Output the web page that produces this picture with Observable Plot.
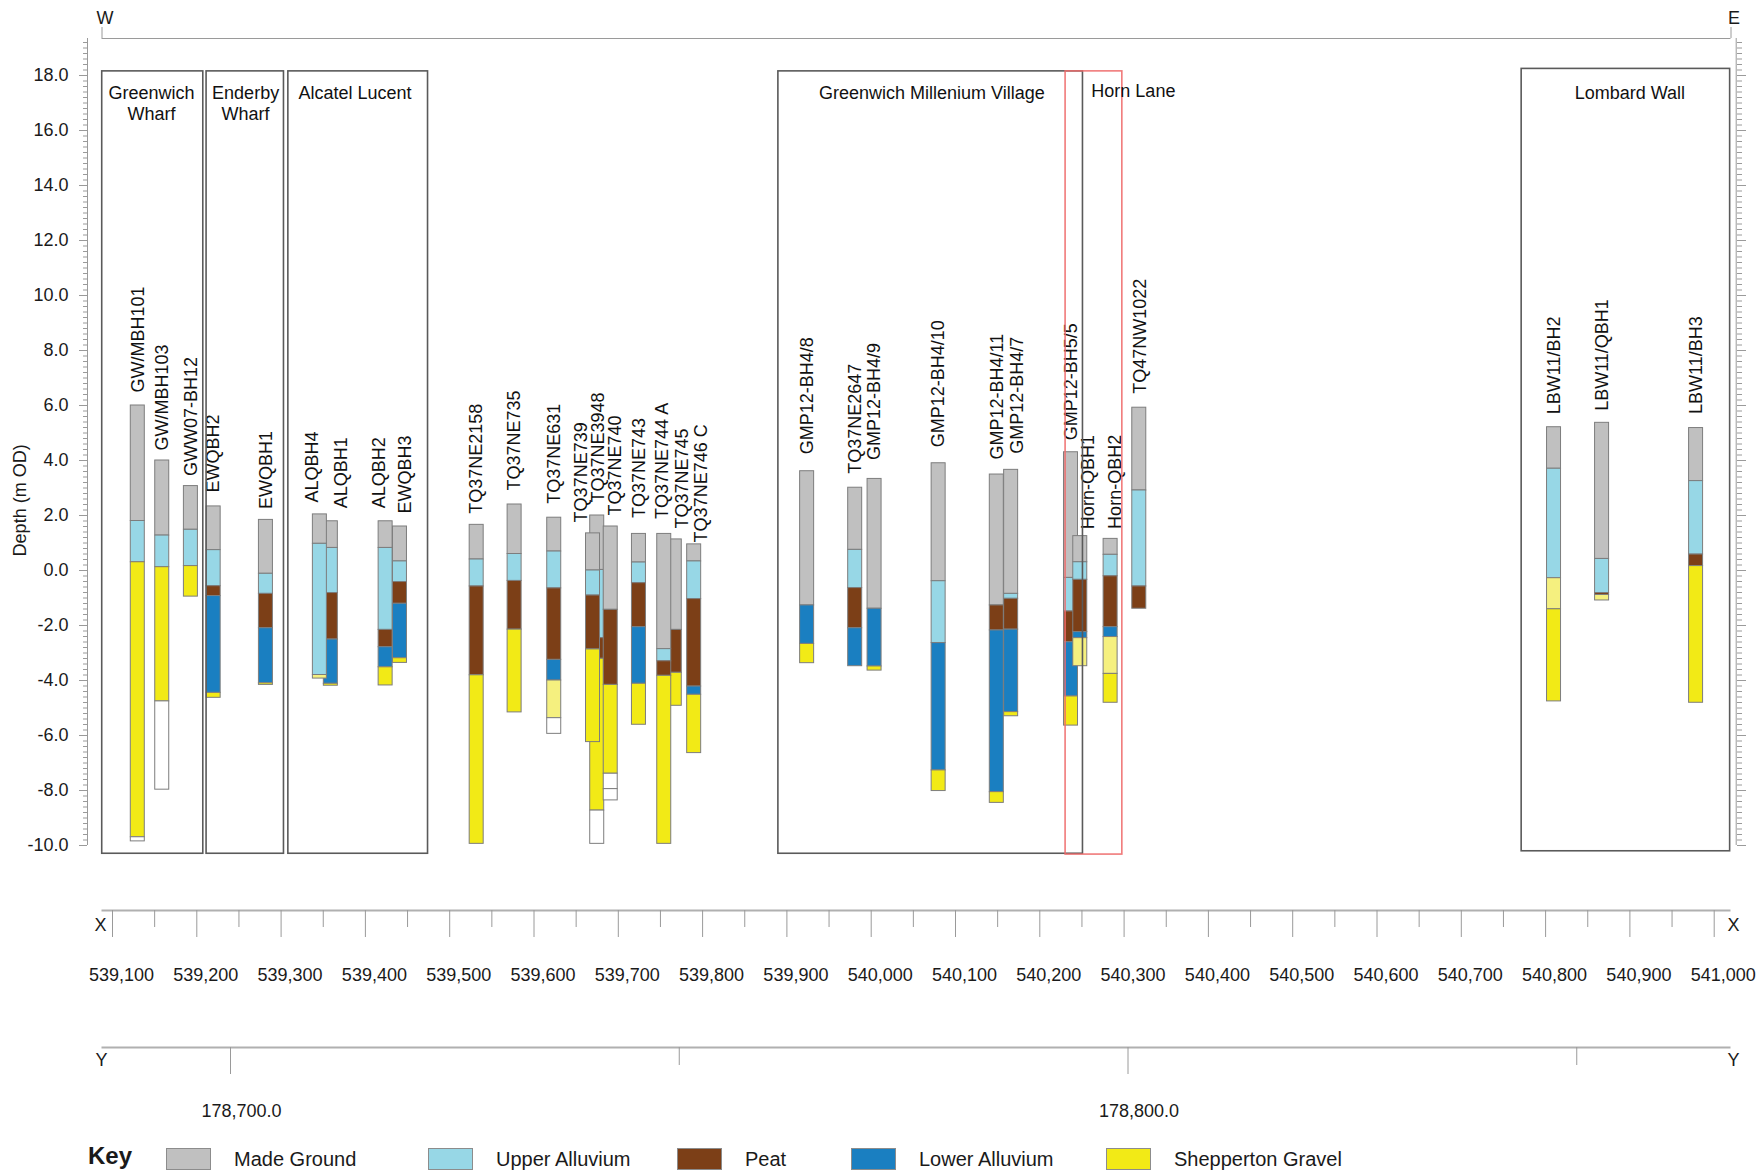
<!DOCTYPE html>
<html>
<head>
<meta charset="utf-8">
<script src="https://cdn.jsdelivr.net/npm/d3@7"></script>
<script src="https://cdn.jsdelivr.net/npm/@observablehq/plot@0.6"></script>
<style>
  body { margin: 0; background: #fff; }
  #page { position: relative; width: 1762px; height: 1175px; overflow: hidden; background: #fff;
          font-family: "Liberation Sans", Arial, sans-serif; color: #1a1a1a; }
  .part { position: absolute; left: 0; }
  .key { position: absolute; top: 1138px; left: 0; width: 1762px; height: 36px; font-size: 20px; }
  .key .title { position: absolute; left: 88px; top: 4px; font-weight: bold; font-size: 24px; }
  .key .sw { position: absolute; top: 10px; width: 45px; height: 22px; box-sizing: border-box; border: 1px solid #8c8c8c; }
  .key .lb { position: absolute; top: 10px; line-height: 22px; }
</style>
</head>
<body>
<div id="page"></div>
<script>
// ---------------- data ----------------
const unitCodes  = ["MG", "UA", "PT", "LA", "SG", "SP", "NR"];
const unitNames  = ["Made Ground", "Upper Alluvium", "Peat", "Lower Alluvium", "Shepperton Gravel", "Gravel (pale)", "Not recorded"];
const unitColors = ["#c0c0c0", "#97d7e6", "#7c3f17", "#1a7fc1", "#f2ea16", "#f5f07f", "#ffffff"];
const keyUnits   = ["MG", "UA", "PT", "LA", "SG"];

const boreholeNames = ["GW/MBH101","GW/MBH103","GWW07-BH12","EWQBH2","EWQBH1","ALQBH1","ALQBH4","ALQBH2","EWQBH3",
  "TQ37NE2158","TQ37NE735","TQ37NE631","TQ37NE3948","TQ37NE739","TQ37NE740","TQ37NE743","TQ37NE745","TQ37NE744 A","TQ37NE746 C",
  "GMP12-BH4/8","TQ37NE2647","GMP12-BH4/9","GMP12-BH4/10","GMP12-BH4/11","GMP12-BH4/7","GMP12-BH5/5",
  "Horn-QBH1","Horn-QBH2","TQ47NW1022","LBW11/BH2","LBW11/QBH1","LBW11/BH3"];

const boreholeEasting = [539130, 539159, 539193, 539220, 539282, 539359, 539346, 539424, 539441,
  539532, 539577, 539624, 539675, 539670, 539691, 539724.5, 539767, 539754.5, 539790,
  539924, 539981, 540004, 540080, 540149, 540166, 540237,
  540248, 540284, 540318, 540810, 540867, 540978.5];

// [unit, top (m OD)] for each layer, top to bottom
const boreholeLayers = [
  [["MG",6.0],["UA",1.8],["SG",0.3],["NR",-9.7]],
  [["MG",4.0],["UA",1.27],["SG",0.12],["NR",-4.76]],
  [["MG",3.07],["UA",1.48],["SG",0.16]],
  [["MG",2.33],["UA",0.74],["PT",-0.57],["LA",-0.93],["SG",-4.45]],
  [["MG",1.84],["UA",-0.12],["PT",-0.85],["LA",-2.1],["SG",-4.1]],
  [["MG",1.79],["UA",0.82],["PT",-0.82],["LA",-2.51],["SG",-4.12]],
  [["MG",2.04],["UA",0.97],["SP",-3.8]],
  [["MG",1.79],["UA",0.82],["PT",-2.16],["LA",-2.79],["SG",-3.52]],
  [["MG",1.6],["UA",0.33],["PT",-0.42],["LA",-1.21],["SG",-3.19]],
  [["MG",1.66],["UA",0.4],["PT",-0.58],["SG",-3.81]],
  [["MG",2.4],["UA",0.6],["PT",-0.38],["SG",-2.15]],
  [["MG",1.92],["UA",0.69],["PT",-0.65],["LA",-3.25],["SP",-4.0],["NR",-5.37]],
  [["MG",2.0],["UA",0.02],["PT",-2.46],["SG",-3.21],["NR",-8.73]],
  [["MG",1.35],["UA",0.0],["PT",-0.91],["SG",-2.87]],
  [["MG",1.6],["PT",-1.43],["SG",-4.16],["NR",-7.39],["NR",-7.95]],
  [["MG",1.33],["UA",0.29],["PT",-0.46],["LA",-2.06],["SG",-4.12]],
  [["MG",1.13],["PT",-2.16],["SG",-3.72]],
  [["MG",1.33],["UA",-2.86],["PT",-3.3],["SG",-3.83]],
  [["MG",0.95],["UA",0.33],["PT",-1.04],["LA",-4.22],["SG",-4.52]],
  [["MG",3.61],["LA",-1.27],["SG",-2.67]],
  [["MG",3.01],["UA",0.75],["PT",-0.64],["LA",-2.1]],
  [["MG",3.33],["LA",-1.39],["SG",-3.49]],
  [["MG",3.9],["UA",-0.39],["LA",-2.64],["SG",-7.27]],
  [["MG",3.49],["PT",-1.27],["LA",-2.18],["SG",-8.06]],
  [["MG",3.66],["UA",-0.85],["PT",-1.03],["LA",-2.15],["SG",-5.15]],
  [["MG",4.3],["UA",-0.27],["PT",-1.49],["LA",-2.61],["SG",-4.58]],
  [["MG",1.25],["UA",0.3],["PT",-0.34],["LA",-2.24],["SP",-2.46]],
  [["MG",1.15],["UA",0.57],["PT",-0.21],["LA",-2.06],["SP",-2.42],["SG",-3.76]],
  [["MG",5.92],["UA",2.91],["PT",-0.58]],
  [["MG",5.21],["UA",3.7],["SP",-0.28],["SG",-1.41]],
  [["MG",5.37],["UA",0.42],["PT",-0.82],["SP",-0.89]],
  [["MG",5.18],["UA",3.25],["PT",0.58],["SG",0.16]]
];
const boreholeBase = [-9.85, -7.97, -0.95, -4.63, -4.16, -4.19, -3.93, -4.18, -3.36,
  -9.94, -5.16, -5.94, -9.94, -6.24, -8.36, -5.61, -4.92, -9.94, -6.64,
  -3.37, -3.48, -3.64, -8.02, -8.45, -5.3, -5.64,
  -3.48, -4.81, -1.39, -4.76, -1.09, -4.81];

// label nudges (px): [sideways shift, gap above the top of the log]
const labelNudge = [[0,13],[0,10],[0,10],[0,14],[0,11],[10,13],[-8,12],[-6,13],[5,13],
  [0,11],[0,14],[0,14],[1,13],[-12,11],[5,11],[0,16],[7,11],[-2,15],[7,2],
  [0,17],[0,14],[0,19],[0,16],[0,15],[6,16],[0,12],
  [8,7],[5,10],[1,14],[0,13],[0,12],[0,14]];

const siteNames  = ["Greenwich\nWharf", "Enderby\nWharf", "Alcatel Lucent", "Greenwich Millenium Village", "Lombard Wall"];
const siteWest   = [539087.8, 539211.6, 539308.6, 539889.9, 540771.6];
const siteEast   = [539207.7, 539303.4, 539474.3, 540251.2, 541018.9];
const siteTop    = [18.15, 18.15, 18.15, 18.15, 18.24];
const siteBase   = [-10.3, -10.3, -10.3, -10.3, -10.21];
const siteTitleE = [539146.3, 539257.9, 539387.7, 540072, 540900];

const hornName = "Horn Lane";
const hornWest = 540230.6, hornEast = 540297.9, hornTop = 18.15, hornBase = -10.33, hornTitleE = 540311;

const depthTicks  = d3.range(-10, 18.01, 2);
const depthMinor  = d3.range(-10, 19.3, 0.2).map(v => Math.round(v * 10) / 10);
const eastTicks   = d3.range(539100, 541001, 100);
const eastMinor   = d3.range(539150, 541000, 100);
const northTicks  = [178700, 178800];
const northMinor  = [178750, 178850];

// ---------------- layout ----------------
const W = 1762;
const xRange = [112, 1713.7];
const xDomain = [539100, 541000];
const pxPerM = (xRange[1] - xRange[0]) / (xDomain[1] - xDomain[0]);
const eAt = px => xDomain[0] + (px - xRange[0]) / pxPerM;   // pixel -> easting (for decorations)
const yRange = [845, 75];
const pxPerDepth = (yRange[0] - yRange[1]) / 28;
const barHalf = 7 / pxPerM;
const font = "Liberation Sans, Arial, sans-serif";
const axisGrey = "#9a9a9a";
const titleDepth = 17.7;

const segments = [];
boreholeNames.forEach((name, i) => {
  const layers = boreholeLayers[i];
  layers.forEach(([code, top], j) => {
    const bottom = j + 1 < layers.length ? layers[j + 1][1] : boreholeBase[i];
    segments.push({name, e: boreholeEasting[i], code, top, bottom});
  });
});
const labels = boreholeNames.map((name, i) => ({
  name, e: boreholeEasting[i], top: boreholeLayers[i][0][1], nudge: labelNudge[i]
}));
const sites = siteNames.map((name, i) => ({
  name, w: siteWest[i], e: siteEast[i], top: siteTop[i], base: siteBase[i], te: siteTitleE[i]
}));

const topLineDepth = (570 - 38) / pxPerDepth;
const lineW = eAt(101.5), lineE = eAt(1730.5);

const main = Plot.plot({
  width: W, height: 880,
  marginTop: 38, marginBottom: 35, marginLeft: 87, marginRight: 26,
  x: {domain: xDomain, range: xRange, axis: null},
  y: {domain: [-10, 18], range: yRange, axis: null},
  color: {domain: unitCodes, range: unitColors},
  style: {fontFamily: font, fontSize: "18px", color: "#1a1a1a", background: "transparent", overflow: "visible"},
  marks: [
    // depth rulers
    Plot.ruleX([eAt(87)], {stroke: axisGrey}),
    Plot.ruleX([eAt(1735.7)], {stroke: axisGrey}),
    Plot.axisY(depthMinor, {anchor: "left", tickSize: 4, tickFormat: () => "", stroke: axisGrey, label: null}),
    Plot.axisY(depthTicks, {anchor: "left", tickSize: 8, tickPadding: 11, tickFormat: d => d.toFixed(1),
      fontSize: 18, stroke: axisGrey, fill: "#1a1a1a", label: null}),
    Plot.axisY(depthMinor, {anchor: "right", tickSize: 5, tickFormat: () => "", stroke: axisGrey, label: null}),
    Plot.axisY(depthTicks, {anchor: "right", tickSize: 9, tickFormat: () => "", stroke: axisGrey, label: null}),
    Plot.text(["Depth (m OD)"], {x: () => eAt(20), y: () => 2.55, rotate: -90, fontSize: 18, fill: "#1a1a1a"}),
    // W–E section line
    Plot.ruleY([topLineDepth], {x1: lineW, x2: lineE, stroke: axisGrey}),
    Plot.ruleX([lineW, lineE], {y1: topLineDepth, y2: topLineDepth + 11 / pxPerDepth, stroke: axisGrey}),
    Plot.text(["W", "E"], {x: [lineW + 3 / pxPerM, lineE + 3 / pxPerM], y: () => (570 - 18) / pxPerDepth, fontSize: 18, fill: "#1a1a1a"}),
    // borehole logs
    Plot.rect(segments, {x1: d => d.e - barHalf, x2: d => d.e + barHalf, y1: "top", y2: "bottom",
      fill: "code", stroke: "#7d7d7d", strokeWidth: 1}),
    Plot.text(labels, {x: d => d.e + d.nudge[0] / pxPerM, y: d => d.top + d.nudge[1] / pxPerDepth, text: "name",
      rotate: -90, textAnchor: "start", lineAnchor: "middle", fontSize: 18, fill: "#111"}),
    // site boxes
    Plot.rect(sites, {x1: "w", x2: "e", y1: "top", y2: "base", fill: "none", stroke: "#5a5a5a", strokeWidth: 1.6}),
    Plot.rect([hornName], {x1: () => hornWest, x2: () => hornEast, y1: () => hornTop, y2: () => hornBase,
      fill: "none", stroke: "#ee6b6b", strokeWidth: 1.6, strokeOpacity: 0.9}),
    Plot.text(sites, {x: "te", y: () => titleDepth, text: "name", lineAnchor: "top", lineHeight: 1.17, fontSize: 18, fill: "#111"}),
    Plot.text([hornName], {x: () => hornTitleE, y: () => titleDepth, lineAnchor: "top", fontSize: 18, fill: "#111"})
  ]
});

// X (easting) axis
const xAxis = Plot.plot({
  width: W, height: 120,
  marginTop: 0, marginBottom: 90, marginLeft: 100, marginRight: 32,
  x: {domain: xDomain, range: xRange},
  y: {domain: [0, 1], range: [30, 0], axis: null},
  style: {fontFamily: font, fontSize: "18px", color: "#1a1a1a", background: "transparent", overflow: "visible"},
  marks: [
    Plot.ruleY([0], {x1: lineW, x2: lineE, stroke: "#b0b0b0", strokeWidth: 2}),
    Plot.axisX(eastMinor, {anchor: "bottom", tickSize: 17, tickFormat: () => "", stroke: axisGrey, label: null}),
    Plot.axisX(eastTicks, {anchor: "bottom", tickSize: 27, tickFormat: () => "", stroke: axisGrey, label: null}),
    Plot.axisX(eastTicks, {anchor: "bottom", tickSize: 0, tickPadding: 57.6, dx: 9, tickFormat: d3.format(","),
      fontSize: 18, fill: "#1a1a1a", label: null}),
    Plot.text(["X"], {frameAnchor: "bottom-left", dx: -6, dy: 20, fontSize: 18, fill: "#1a1a1a"}),
    Plot.text(["X"], {frameAnchor: "bottom-right", dx: 9, dy: 20, fontSize: 18, fill: "#1a1a1a"})
  ]
});

// Y (northing) axis
const nRange = [230, 1127.5];
const nDomain = [178700, 178800];
const pxPerN = (nRange[1] - nRange[0]) / (nDomain[1] - nDomain[0]);
const nAt = px => nDomain[0] + (px - nRange[0]) / pxPerN;
const yAxis = Plot.plot({
  width: W, height: 130,
  marginTop: 0, marginBottom: 83, marginLeft: 100, marginRight: 32,
  x: {domain: nDomain, range: nRange},
  y: {domain: [0, 1], range: [47, 0], axis: null},
  style: {fontFamily: font, fontSize: "18px", color: "#1a1a1a", background: "transparent", overflow: "visible"},
  marks: [
    Plot.ruleY([0], {x1: nAt(101.5), x2: nAt(1730.5), stroke: "#b0b0b0", strokeWidth: 2}),
    Plot.axisX(northMinor, {anchor: "bottom", tickSize: 18, tickFormat: () => "", stroke: axisGrey, label: null}),
    Plot.axisX(northTicks, {anchor: "bottom", tickSize: 27, tickFormat: () => "", stroke: axisGrey, label: null}),
    Plot.axisX(northTicks, {anchor: "bottom", tickSize: 0, tickPadding: 56.6, dx: 11, tickFormat: d3.format(",.1f"),
      fontSize: 18, fill: "#1a1a1a", label: null}),
    Plot.text(["Y"], {frameAnchor: "bottom-left", dx: -5, dy: 18, fontSize: 18, fill: "#1a1a1a"}),
    Plot.text(["Y"], {frameAnchor: "bottom-right", dx: 9, dy: 18, fontSize: 18, fill: "#1a1a1a"})
  ]
});

const page = document.getElementById("page");
function place(node, top) {
  const wrap = document.createElement("div");
  wrap.className = "part";
  wrap.style.top = top + "px";
  wrap.appendChild(node);
  page.appendChild(wrap);
}
place(main, 0);
place(xAxis, 880);
place(yAxis, 1000);

// Key
const keySlots = [166, 428, 677, 851, 1106];
const key = document.createElement("div");
key.className = "key";
key.innerHTML = `<span class="title">Key</span>`;
keyUnits.forEach((code, i) => {
  const k = unitCodes.indexOf(code);
  const sw = document.createElement("div");
  sw.className = "sw";
  sw.style.left = keySlots[i] + "px";
  sw.style.background = unitColors[k];
  const lb = document.createElement("div");
  lb.className = "lb";
  lb.style.left = (keySlots[i] + 68) + "px";
  lb.textContent = unitNames[k];
  key.appendChild(sw);
  key.appendChild(lb);
});
page.appendChild(key);
</script>
</body>
</html>
